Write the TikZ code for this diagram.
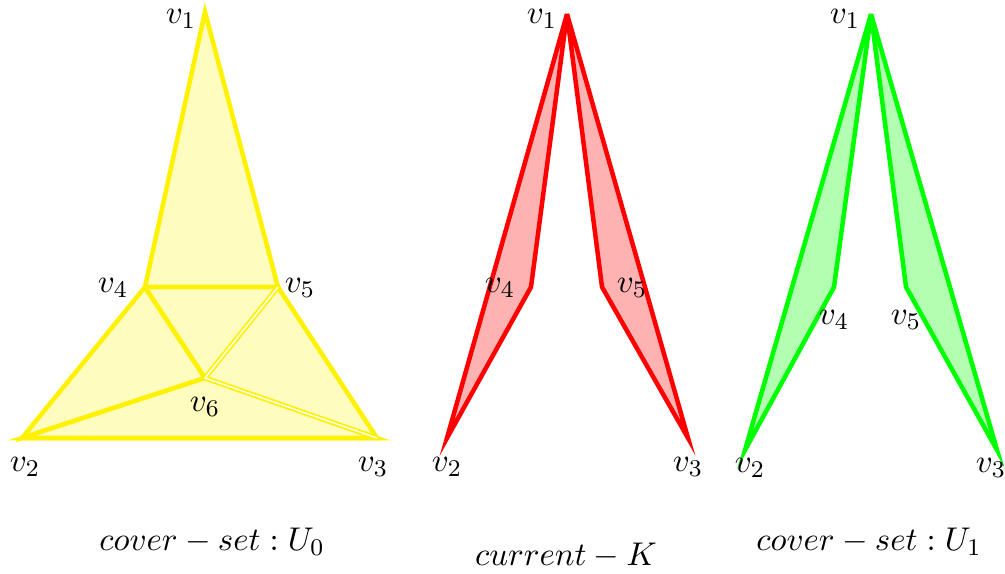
\documentclass[tikz,border=0pt]{standalone}
\usepackage{amsmath,amssymb}
\usepackage{xcolor}
\usepackage{tikz}
\usetikzlibrary{positioning, calc}
\tikzset{
  coverface/.style={
    draw=yellow, fill=yellow!25, line width=1.5pt
  },
  coveredge/.style={
    draw=yellow, line width=1.5pt
  },
  coverdouble/.style={
    draw=yellow, double=white, double distance=0.5pt, line width=0.6pt
  },
  curface/.style={
    draw=red, fill=red!30, line width=1.5pt
  },
  nextface/.style={
    draw=green, fill=green!30, line width=1.5pt
  },
  vlabel/.style={
    inner sep=1pt, font=\fontsize{11.4pt}{14pt}\selectfont
  },
  caption/.style={
    inner sep=1pt, font=\fontsize{11.4pt}{14pt}\selectfont
  },
}

\begin{document}
\begin{tikzpicture}[x=0.3333pt, y=-0.3333pt]
  \useasboundingbox (0,0) rectangle (1005,573);

  % --- Left: cover set U0 ---
  \coordinate (a1) at (205,12);
  \coordinate (a2) at (22,438);
  \coordinate (a3) at (377,438);
  \coordinate (a4) at (145,287);
  \coordinate (a5) at (278,287);
  \coordinate (a6) at (205,378);

  \filldraw[coverface] (a1) -- (a4) -- (a5) -- cycle;
  \filldraw[coverface] (a4) -- (a2) -- (a6) -- cycle;
  \filldraw[coverface] (a2) -- (a3) -- (a6) -- cycle;
  \fill[yellow!25] (a4) -- (a5) -- (a6) -- cycle;
  \fill[yellow!25] (a5) -- (a3) -- (a6) -- cycle;
  \draw[coveredge] (a4) -- (a5) -- (a3) -- (a2);
  \draw[coveredge] (a4) -- (a6);
  \draw[coverdouble] (a5) -- (a6) -- (a3);

  \node[vlabel] (la1) at (181,19) {$v_1$};
  \node[vlabel] (la2) at (25,467) {$v_2$};
  \node[vlabel] (la3) at (373,467) {$v_3$};
  \node[vlabel] (la4) at (113,288) {$v_4$};
  \node[vlabel] (la5) at (300,288) {$v_5$};
  \node[vlabel] (la6) at (205,407) {$v_6$};
  \node[caption] (capa) at (212,542) {$cover-set:U_0$};

  % --- Middle: current K ---
  \coordinate (b1) at (567,14);
  \coordinate (b2) at (447,438);
  \coordinate (b3) at (688,438);
  \coordinate (b4) at (531,287);
  \coordinate (b5) at (602,287);

  \filldraw[curface] (b1) -- (b4) -- (b2) -- cycle;
  \filldraw[curface] (b1) -- (b5) -- (b3) -- cycle;

  \node[vlabel] (lb1) at (542,19) {$v_1$};
  \node[vlabel] (lb2) at (447,467) {$v_2$};
  \node[vlabel] (lb3) at (688,467) {$v_3$};
  \node[vlabel] (lb4) at (500,288) {$v_4$};
  \node[vlabel] (lb5) at (632,288) {$v_5$};
  \node[caption] (capb) at (566,556) {$current-K$};

  % --- Right: cover set U1 ---
  \coordinate (c1) at (871,14);
  \coordinate (c2) at (745,450);
  \coordinate (c3) at (997,450);
  \coordinate (c4) at (834,287);
  \coordinate (c5) at (906,287);

  \filldraw[nextface] (c1) -- (c4) -- (c2) -- cycle;
  \filldraw[nextface] (c1) -- (c5) -- (c3) -- cycle;

  \node[vlabel] (lc1) at (845,19) {$v_1$};
  \node[vlabel] (lc2) at (750,468) {$v_2$};
  \node[vlabel] (lc3) at (991,468) {$v_3$};
  \node[vlabel] (lc4) at (834,320) {$v_4$};
  \node[vlabel] (lc5) at (906,320) {$v_5$};
  \node[caption] (capc) at (869,542) {$cover-set:U_1$};

\end{tikzpicture}
\end{document}
